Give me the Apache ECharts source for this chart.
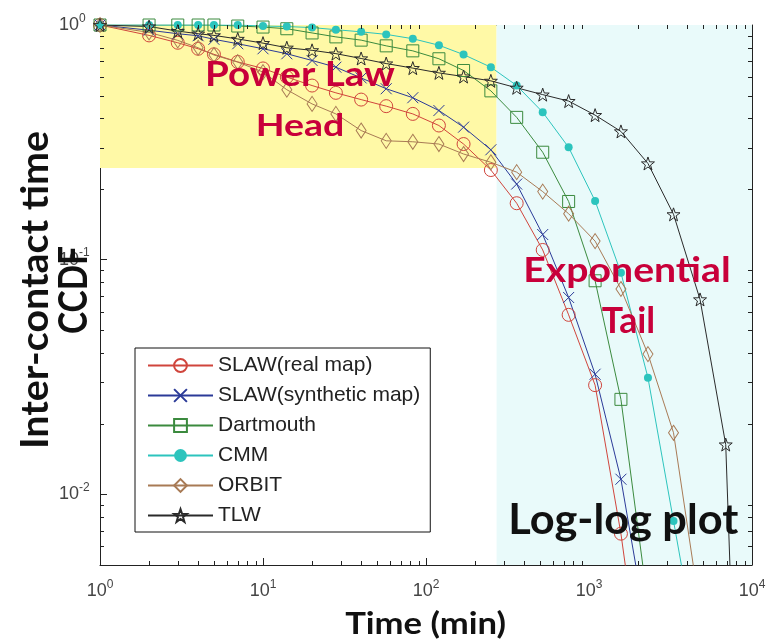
<!DOCTYPE html>
<html><head><meta charset="utf-8">
<script src="https://cdn.jsdelivr.net/npm/echarts@6/dist/echarts.min.js"></script>
<style>html,body{margin:0;padding:0;background:#fff}#c{width:767px;height:643px}</style>
</head><body><div id="c"></div>
<script>
// ---------------- data ----------------
const times = [1,2,3,4,5,7,10,14,20,28,40,57,83,120,170,250,360,520,750,1090,1570,2300,3300,4800,6900,10000];
const seriesNames = ['SLAW(real map)','SLAW(synthetic map)','Dartmouth','CMM','ORBIT','TLW'];
const slawReal  = [1,0.903,0.84,0.792,0.75,0.696,0.653,0.60,0.552,0.514,0.481,0.451,0.418,0.373,0.311,0.241,0.174,0.110,0.0582,0.0292,0.0068,0.001,null,null,null,null];
const slawSynth = [1,0.95,0.918,0.90,0.869,0.832,0.792,0.754,0.706,0.661,0.595,0.535,0.49,0.432,0.367,0.294,0.21,0.128,0.069,0.0325,0.0116,0.0025,null,null,null,null];
const dartmouth = [1,1,1,1,1,0.99,0.98,0.964,0.925,0.89,0.862,0.815,0.776,0.718,0.64,0.524,0.404,0.287,0.177,0.0813,0.0254,0.0034,null,null,null,null];
const cmm       = [1,1,1,1,1,1,0.99,0.985,0.975,0.955,0.935,0.912,0.874,0.82,0.748,0.661,0.552,0.425,0.301,0.178,0.088,0.0314,0.0077,0.0018,null,null];
const orbit     = [1,0.93,0.86,0.80,0.745,0.695,0.63,0.53,0.461,0.418,0.355,0.321,0.318,0.311,0.282,0.26,0.236,0.195,0.157,0.12,0.075,0.0396,0.0183,0.0032,null,null];
const tlw       = [1,0.985,0.942,0.918,0.903,0.872,0.837,0.80,0.78,0.755,0.72,0.685,0.655,0.625,0.603,0.578,0.54,0.505,0.474,0.413,0.352,0.257,0.156,0.0677,0.0163,0.00001];
const xRange = [1, 10000];
const yRange = [0.005, 1];
const xMinorTicks = [2,3,4,5,6,7,8,9,20,30,40,50,60,70,80,90,200,300,400,500,600,700,800,900,2000,3000,4000,5000,6000,7000,8000,9000];
const yMinorTicks = [0.006,0.007,0.008,0.009,0.02,0.03,0.04,0.05,0.06,0.07,0.08,0.09,0.2,0.3,0.4,0.5,0.6,0.7,0.8,0.9];
const headRegion = {x:[1,271], y:[0.246,1]};
const tailRegion = {x:[271,10000], y:[0.005,1]};
const labels = {
  xTitle: 'Time (min)', yTitle1: 'Inter-contact time', yTitle2: 'CCDF',
  head1: 'Power Law', head2: 'Head', tail1: 'Exponential', tail2: 'Tail', note: 'Log-log plot'
};

// ---------------- styles ----------------
const colors = ['#d0453c','#2b3a98','#3b8a3e','#2cc4bd','#a87a55','#2a2a2a'];
const X_PATH = 'path://M0,0L10,10M10,0L0,10';
const STAR_PATH = 'path://M5,0L6.18,3.38L9.76,3.45L6.9,5.62L7.94,9.05L5,7L2.06,9.05L3.1,5.62L0.24,3.45L3.82,3.38Z';
const symbols = ['circle', X_PATH, 'rect', 'circle', 'diamond', STAR_PATH];
const symbolSizes = [13, 11, 12, 8, [10,15], 13];
const filled = [false,false,false,true,false,false];
const values = [slawReal, slawSynth, dartmouth, cmm, orbit, tlw];

const chart = echarts.init(document.getElementById('c'), null, {renderer:'canvas'});

function supLabel(v) {
  const e = Math.log10(v);
  const r = Math.round(e);
  if (Math.abs(e - r) > 1e-6) return '';
  return '{b|10}{s|' + r + '}';
}
const labelRich = {
  b: {fontSize: 18, fontFamily: 'Liberation Sans, Arial, sans-serif', color: '#444', padding: [7,0,0,0], lineHeight: 18},
  s: {fontSize: 12, fontFamily: 'Liberation Sans, Arial, sans-serif', color: '#444', verticalAlign: 'top', lineHeight: 12}
};

const axisLine = {show: true, onZero: false, lineStyle: {color: '#222', width: 1}};
const axisTick = {show: true, inside: true, length: 7, lineStyle: {color: '#222', width: 1}};

const series = values.map((arr, i) => ({
  name: seriesNames[i],
  type: 'line',
  data: times.map((t, k) => [t, arr[k]]).filter(d => d[1] !== null),
  symbol: symbols[i],
  symbolSize: symbolSizes[i],
  showAllSymbol: true,
  clip: true,
  z: 3,
  lineStyle: {color: colors[i], width: 1},
  itemStyle: filled[i] ? {color: colors[i], borderWidth: 0}
                       : {color: 'rgba(0,0,0,0)', borderColor: colors[i], borderWidth: 1},
  emphasis: {disabled: true}
}));

// shaded regions
series.unshift({
  name: 'regions', type: 'line', data: [], z: 1, silent: true,
  markArea: {
    silent: true,
    data: [
      [{xAxis: headRegion.x[0], yAxis: headRegion.y[0], itemStyle: {color: '#fff9a6'}},
       {xAxis: headRegion.x[1], yAxis: headRegion.y[1]}],
      [{xAxis: tailRegion.x[0], yAxis: tailRegion.y[0], itemStyle: {color: '#e9fafa'}},
       {xAxis: tailRegion.x[1], yAxis: tailRegion.y[1]}]
    ]
  }
});

// minor ticks on all four sides
const tickStyle = {stroke: '#222', lineWidth: 1};
series.push({
  name: 'xminor', type: 'custom', coordinateSystem: 'cartesian2d', silent: true, clip: false, z: 6,
  data: xMinorTicks.map(v => [v, yRange[1]]),
  renderItem: (params, api) => {
    const v = api.value(0);
    const b = api.coord([v, yRange[0]]), t = api.coord([v, yRange[1]]);
    const x = Math.round(b[0]) + 0.5;
    return {type: 'group', children: [
      {type: 'line', shape: {x1: x, y1: b[1], x2: x, y2: b[1] - 4}, style: tickStyle},
      {type: 'line', shape: {x1: x, y1: t[1], x2: x, y2: t[1] + 4}, style: tickStyle}
    ]};
  }
});
series.push({
  name: 'yminor', type: 'custom', coordinateSystem: 'cartesian2d', silent: true, clip: false, z: 6,
  data: yMinorTicks.map(v => [xRange[0], v]),
  renderItem: (params, api) => {
    const v = api.value(1);
    const l = api.coord([xRange[0], v]), r = api.coord([xRange[1], v]);
    const y = Math.round(l[1]) + 0.5;
    return {type: 'group', children: [
      {type: 'line', shape: {x1: l[0], y1: y, x2: l[0] + 4, y2: y}, style: tickStyle},
      {type: 'line', shape: {x1: r[0], y1: y, x2: r[0] - 4, y2: y}, style: tickStyle}
    ]};
  }
});

// --- text fitting helpers ---
const CAP = 0.7165; // Lato cap height / em
const ctx = document.createElement('canvas').getContext('2d');
function measure(text, fs) { ctx.font = 'bold ' + fs + 'px Lato'; return ctx.measureText(text).width; }
function hText(text, cx, cy, width, cap, color) {
  const fs = 100 * width / measure(text, 100);
  return {type: 'text', x: cx, y: cy, scaleY: cap / (CAP * fs), z: 100, silent: true,
    style: {text, fontFamily: 'Lato', fontWeight: 'bold', fontSize: fs, fill: color, align: 'center', verticalAlign: 'middle'}};
}
function vText(text, cx, cy, length, cap, color) {
  const fs = cap / CAP;
  return {type: 'text', x: cx, y: cy, rotation: Math.PI / 2, scaleX: length / measure(text, fs), z: 100, silent: true,
    style: {text, fontFamily: 'Lato', fontWeight: 'bold', fontSize: fs, fill: color, align: 'center', verticalAlign: 'middle'}};
}
const crimson = '#c8003a';

const option = {
  animation: false,
  backgroundColor: '#fff',
  grid: {left: 100, top: 25, right: 15, bottom: 78, containLabel: false, outerBoundsMode: 'none', show: false},
  xAxis: [
    {type: 'log', logBase: 10, min: xRange[0], max: xRange[1], position: 'bottom',
     axisLine, axisTick, splitLine: {show: false}, minorTick: {show: false},
     axisLabel: {formatter: supLabel, rich: labelRich, margin: 14, showMinLabel: true, showMaxLabel: true, hideOverlap: false}},
    {type: 'log', logBase: 10, min: xRange[0], max: xRange[1], position: 'top',
     axisLine, axisTick, splitLine: {show: false}, axisLabel: {show: false}}
  ],
  yAxis: [
    {type: 'log', logBase: 10, min: yRange[0], max: yRange[1], position: 'left',
     axisLine, axisTick, splitLine: {show: false},
     axisLabel: {formatter: supLabel, rich: labelRich, margin: 41, align: 'left', padding: [0,0,7,0], showMinLabel: true, showMaxLabel: true, hideOverlap: false}},
    {type: 'log', logBase: 10, min: yRange[0], max: yRange[1], position: 'right',
     axisLine, axisTick, splitLine: {show: false}, axisLabel: {show: false}}
  ],
  legend: {
    data: seriesNames, orient: 'vertical', left: 135, top: 348,
    padding: [7, 10, 6, 12], itemWidth: 65, itemHeight: 16, itemGap: 9,
    backgroundColor: '#fff', borderColor: '#111', borderWidth: 1, borderRadius: 0,
    textStyle: {fontSize: 21, fontFamily: 'Liberation Sans, Arial, sans-serif', color: '#222'},
    selectedMode: false, z: 20
  },
  series,
  graphic: [
    hText(labels.head1, 300, 75.3, 190, 24, crimson),
    hText(labels.head2, 300, 126, 88.6, 22.3, crimson),
    hText(labels.tail1, 627, 271, 207.4, 25, crimson),
    hText(labels.tail2, 628.5, 321, 53.5, 25.7, crimson),
    hText(labels.note, 623.3, 520, 230, 30, '#111'),
    hText(labels.xTitle, 425.6, 624, 161, 22.5, '#111'),
    vText(labels.yTitle1, 35.5, 290, 318, 27, '#111'),
    vText(labels.yTitle2, 73.5, 290, 88, 29, '#111')
  ]
};
chart.setOption(option);
</script></body></html>
